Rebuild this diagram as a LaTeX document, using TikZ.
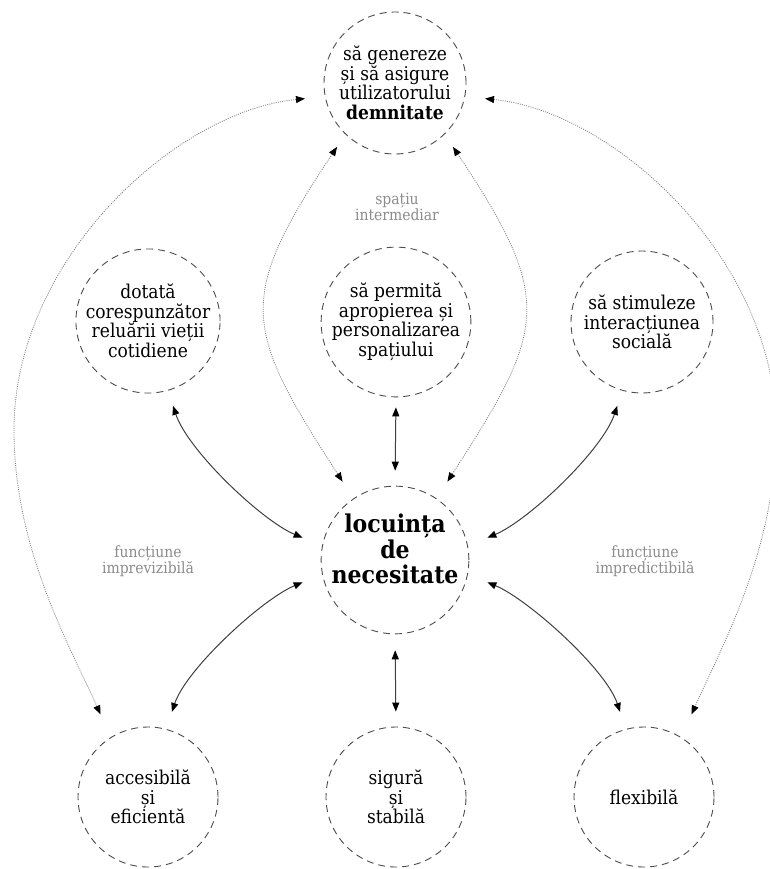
\documentclass[tikz,border=0pt]{standalone}
\usepackage{fontspec}
\setmainfont{DejaVu Serif Condensed}
\usetikzlibrary{arrows.meta}
\begin{document}
\begin{tikzpicture}[x=1pt,y=-1pt,
  bub/.style={circle,draw=black!70,dash pattern=on 7pt off 5pt,line width=0.9pt,
    minimum size=142pt,inner sep=0pt,align=center,
    font=\fontsize{19}{19.5}\selectfont},
  core/.style={bub,minimum size=144pt,font=\fontsize{24.5}{22}\selectfont\bfseries},
  glabel/.style={align=center,text=black!45,font=\fontsize{15.5}{15}\selectfont},
  tips/.style={{Triangle[length=9pt,width=7pt,color=black]}-{Triangle[length=9pt,width=7pt,color=black]}},
  sol/.style={tips,draw=black!75,line width=1pt},
  dot/.style={tips,draw=black!50,line width=0.8pt,dash pattern=on 1pt off 1.2pt}
]
\useasboundingbox (0,0) rectangle (769,869);
\fill[white] (0,0) rectangle (769,869);

\node[bub] (T) at (395,83) {să genereze\\și să asigure\\utilizatorului\\\textbf{demnitate}};
\node[bub] (D) at (148,321) {dotată\\corespunzător\\reluării vieții\\cotidiene};
\node[bub] (P) at (396,322) {să permită\\apropierea și\\personalizarea\\spațiului};
\node[bub] (S) at (642,322) {să stimuleze\\interacțiunea\\socială};
\node[core] (C) at (395,560) {\raisebox{8pt}[\height][\depth]{\begin{tabular}{@{}c@{}}locuința\\de\\necesitate\end{tabular}}};
\node[bub,minimum size=140pt] (B1) at (148,797) {accesibilă\\și\\eficientă};
\node[bub,minimum size=140pt] (B2) at (396,797) {sigură\\și\\stabilă};
\node[bub,minimum size=140pt] (B3) at (644,797) {flexibilă};

\node[glabel] (L1) at (397,207) {spațiu\\intermediar};
\node[glabel] (L2) at (148,561) {funcțiune\\imprevizibilă};
\node[glabel] (L3) at (645,561) {funcțiune\\impredictibilă};

\coordinate (wl) at (14,430);
\coordinate (wr) at (776,430);

% solid connectors
\draw[sol,shorten <=16pt,shorten >=21pt] (D.286) .. controls +(20,60) and +(-60,-25) .. (C.169);
\draw[sol,shorten <=16pt,shorten >=21pt] (S.254) .. controls +(-20,60) and +(60,-25) .. (C.11);
\draw[sol,shorten <=10pt,shorten >=15pt] (P.south) -- (C.north);
\draw[sol,shorten <=21pt,shorten >=18pt] (C.191) .. controls +(-60,25) and +(20,-60) .. (B1.75);
\draw[sol,shorten <=21pt,shorten >=18pt] (C.349) .. controls +(60,25) and +(-20,-60) .. (B3.105);
\draw[sol,shorten <=16pt,shorten >=15pt] (C.south) -- (B2.north);

% dotted connectors
\draw[dot,shorten <=20pt,shorten >=25pt] (T.191) .. controls +(-150,15) and +(0,-170) .. (wl)
   .. controls +(0,120) and +(-40,-90) .. (B1.122);
\draw[dot,shorten <=20pt,shorten >=25pt] (T.349) .. controls +(150,15) and +(0,-170) .. (wr)
   .. controls +(0,120) and +(40,-90) .. (B3.58);
\draw[dot,shorten <=15pt,shorten >=20pt] (T.226) .. controls +(-110,165) and +(-110,-170) .. (C.124);
\draw[dot,shorten <=15pt,shorten >=20pt] (T.314) .. controls +(110,165) and +(110,-170) .. (C.56);
\end{tikzpicture}
\end{document}
